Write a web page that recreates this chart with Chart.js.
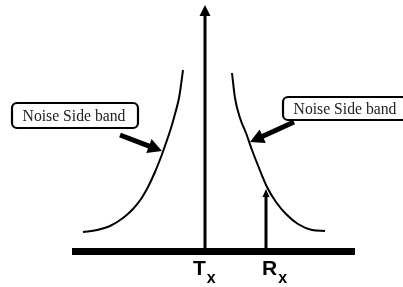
<!DOCTYPE html>
<html>
<head>
<meta charset="utf-8">
<script src="https://cdn.jsdelivr.net/npm/chart.js@4/dist/chart.umd.min.js"></script>
<style>
html, body { margin: 0; padding: 0; background: #fff; }
#wrap { width: 403px; height: 287px; }
</style>
</head>
<body>
<div id="wrap"><canvas id="c" width="403" height="287"></canvas></div>
<script>
// picture units: 0..403 across, 0..287 upwards
var carrierNames = ['T', 'R'];
var carrierX = [205, 266];
var carrierTop = [282, 98];
var axisFrom = 72, axisTo = 355, axisLevel = 35.5;

var leftBandX = [83, 97, 110, 123, 133, 141, 148, 155, 161, 166, 171, 175, 179, 181, 183];
var leftBandY = [55, 57, 61, 69, 78, 88, 100, 115, 130, 144, 159, 173, 189, 202, 217];
var rightBandX = [232, 235, 240, 246, 252, 259, 267, 276, 286, 298, 312, 325];
var rightBandY = [214, 189, 169, 154, 137, 119, 100, 85, 73, 63, 57, 56];

var calloutText = ['Noise Side band', 'Noise Side band'];

function pts(xs, ys) {
    return xs.map(function(x, i) { return {x: x, y: ys[i]}; });
}

function arrowHead(ctx, x1, y1, x2, y2, len, w) {
    var a = Math.atan2(y2 - y1, x2 - x1);
    var bx = x2 - Math.cos(a) * len, by = y2 - Math.sin(a) * len;
    ctx.beginPath();
    ctx.moveTo(x2, y2);
    ctx.lineTo(bx + Math.sin(a) * w / 2, by - Math.cos(a) * w / 2);
    ctx.lineTo(bx - Math.sin(a) * w / 2, by + Math.cos(a) * w / 2);
    ctx.closePath();
    ctx.fill();
}

var drawings = {
    id: 'drawings',
    afterDatasetsDraw: function(chart) {
        var ctx = chart.ctx;
        var px = function(v) { return chart.scales.x.getPixelForValue(v); };
        var py = function(v) { return chart.scales.y.getPixelForValue(v); };
        ctx.save();
        ctx.fillStyle = '#000';
        ctx.strokeStyle = '#000';

        // heads on carrier lines
        arrowHead(ctx, px(carrierX[0]), py(axisLevel), px(carrierX[0]), py(carrierTop[0]), 11, 11);
        arrowHead(ctx, px(carrierX[1]), py(axisLevel), px(carrierX[1]), py(carrierTop[1]), 8, 7);

        // carrier labels
        var labelX = [193, 262];
        carrierNames.forEach(function(n, i) {
            ctx.font = 'bold 21px "Liberation Sans", Arial, sans-serif';
            ctx.textBaseline = 'alphabetic';
            ctx.textAlign = 'left';
            ctx.fillText(n, labelX[i], 275);
            var w = ctx.measureText(n).width;
            ctx.font = 'bold 16px "Liberation Sans", Arial, sans-serif';
            ctx.fillText('x', labelX[i] + w + 1, 283);
        });

        // callouts
        var boxes = [
            {x: 12, y: 103, w: 126, h: 25, tx: 74, arrow: [120, 135, 162, 151]},
            {x: 283, y: 97, w: 124, h: 23, tx: 345, arrow: [294, 122, 250, 142]}
        ];
        boxes.forEach(function(b, i) {
            ctx.lineWidth = 2.2;
            ctx.fillStyle = '#fff';
            ctx.beginPath();
            ctx.roundRect(b.x, b.y, b.w, b.h, 5);
            ctx.fill();
            ctx.stroke();
            ctx.fillStyle = '#222';
            ctx.font = '15.7px "Liberation Serif", "Times New Roman", serif';
            ctx.textAlign = 'center';
            ctx.textBaseline = 'middle';
            ctx.fillText(calloutText[i], b.tx, b.y + b.h / 2 + 1);
            ctx.fillStyle = '#000';
            var a = b.arrow;
            var ang = Math.atan2(a[3] - a[1], a[2] - a[0]);
            ctx.lineWidth = 5;
            ctx.beginPath();
            ctx.moveTo(a[0], a[1]);
            ctx.lineTo(a[2] - Math.cos(ang) * 11, a[3] - Math.sin(ang) * 11);
            ctx.stroke();
            arrowHead(ctx, a[0], a[1], a[2], a[3], 14, 15);
        });
        ctx.restore();
    }
};

new Chart(document.getElementById('c'), {
    type: 'scatter',
    data: {
        datasets: [{
            label: 'Left side band',
            data: pts(leftBandX, leftBandY),
            showLine: true,
            borderColor: '#000',
            borderWidth: 2,
            pointRadius: 0,
            cubicInterpolationMode: 'monotone'
        }, {
            label: 'Right side band',
            data: pts(rightBandX, rightBandY),
            showLine: true,
            borderColor: '#000',
            borderWidth: 2,
            pointRadius: 0,
            cubicInterpolationMode: 'monotone'
        }, {
            label: 'Tx',
            data: [{x: carrierX[0], y: axisLevel}, {x: carrierX[0], y: carrierTop[0] - 9}],
            showLine: true,
            borderColor: '#000',
            borderWidth: 3,
            pointRadius: 0
        }, {
            label: 'Rx',
            data: [{x: carrierX[1], y: axisLevel}, {x: carrierX[1], y: carrierTop[1] - 6}],
            showLine: true,
            borderColor: '#000',
            borderWidth: 3,
            pointRadius: 0
        }, {
            label: 'Frequency axis',
            data: [{x: axisFrom, y: axisLevel}, {x: axisTo, y: axisLevel}],
            showLine: true,
            borderColor: '#000',
            borderWidth: 7,
            borderCapStyle: 'butt',
            pointRadius: 0
        }]
    },
    options: {
        responsive: false,
        animation: false,
        layout: { padding: 0 },
        plugins: { legend: { display: false }, tooltip: { enabled: false } },
        scales: {
            x: { type: 'linear', min: 0, max: 403, display: false },
            y: { type: 'linear', min: 0, max: 287, display: false }
        }
    },
    plugins: [drawings]
});
</script>
</body>
</html>
